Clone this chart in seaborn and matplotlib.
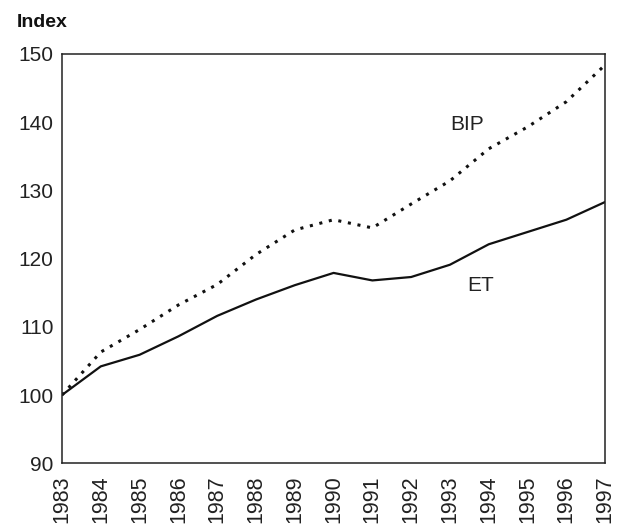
import pandas as pd
import matplotlib
matplotlib.use('Agg')
import matplotlib.pyplot as plt
import seaborn as sns

# Daten (Index, 1983 = 100)

jahre = [1983, 1984, 1985, 1986, 1987, 1988, 1989, 1990, 1991, 1992, 1993, 1994, 1995, 1996, 1997]
bip = [100, 106.3, 109.6, 113.2, 116.2, 120.6, 124.2, 125.7, 124.5, 128.0, 131.4, 136.1, 139.3, 143.0, 148.4]
et = [100, 104.2, 105.9, 108.6, 111.6, 114.0, 116.1, 117.9, 116.8, 117.3, 119.1, 122.1, 123.9, 125.7, 128.3]

df = pd.DataFrame({'jahr': jahre, 'BIP': bip, 'ET': et})

sns.set_style('white')
plt.rcParams['font.family'] = ['Liberation Sans', 'DejaVu Sans']

fig, ax = plt.subplots(figsize=(6.2, 5.24), dpi=100)
fig.subplots_adjust(left=0.1, right=0.976, top=0.897, bottom=0.116)

sns.lineplot(data=df, x='jahr', y='BIP', ax=ax, color='#111111', linewidth=2.2, linestyle=(0, (1, 2.2)))
sns.lineplot(data=df, x='jahr', y='ET', ax=ax, color='#111111', linewidth=1.6)

ax.set_xlim(1983, 1997)
ax.set_ylim(90, 150)
ax.set_xticks(jahre)
ax.set_xticklabels([str(j) for j in jahre], rotation=90, fontsize=15.5, color='#222222')
ax.set_yticks(range(90, 151, 10))
ax.tick_params(axis='y', labelsize=15, labelcolor='#222222')
ax.tick_params(direction='inout', length=8, width=1, colors='#222222', pad=2)
ax.tick_params(axis='x', labelcolor='#222222', pad=5)
ax.set_xlabel('')
ax.set_ylabel('')

for s in ax.spines.values():
    s.set_color('#222222')
    s.set_linewidth(1.1)

ax.text(1993.45, 139.7, 'BIP', fontsize=15, ha='center', va='center', color='#222222')
ax.text(1993.8, 116.0, 'ET', fontsize=15, ha='center', va='center', color='#222222')

fig.text(0.027, 0.958, 'Index', fontsize=14, fontweight='bold', ha='left', va='center', color='#111111')

fig.savefig('out.png', dpi=100)
